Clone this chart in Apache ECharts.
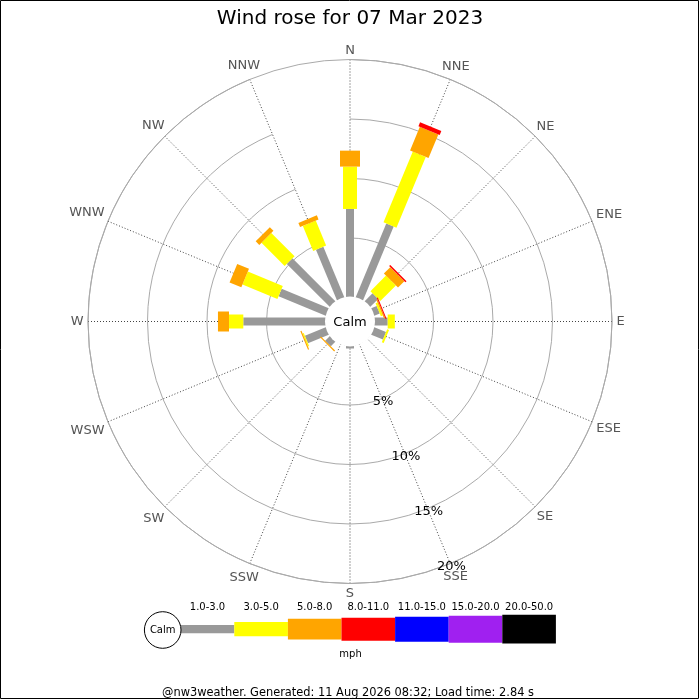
<!DOCTYPE html>
<html><head><meta charset="utf-8">
<script src="https://cdn.jsdelivr.net/npm/echarts@6/dist/echarts.min.js"></script>
<style>html,body{margin:0;padding:0;background:#fff}#c{width:700px;height:700px}</style>
</head><body><div id="c"></div>
<script>
// ---- data ----
const directions = ['N','NNE','NE','ENE','E','ESE','SE','SSE','S','SSW','SW','WSW','W','WNW','NW','NNW'];
const speedBands = ['1.0-3.0','3.0-5.0','5.0-8.0','8.0-11.0','11.0-15.0','15.0-20.0','20.0-50.0'];
const bandColors = ['#999999','#ffff00','#ffa500','#ff0000','#0000ff','#a020f0','#000000'];
// percent of time per direction for each speed band (mph)
const band1 = [7.44, 6.76, 1.00, 0.55, 1.15, 1.12, 0, 0, 0.25, 0, 0.60, 1.95, 6.95, 4.34, 5.16, 4.65];
const band2 = [3.56, 6.44, 1.85, 0.17, 0.60, 0.17, 0, 0, 0, 0, 0, 0.10, 1.20, 3.18, 2.76, 2.27];
const band3 = [1.34, 2.15, 0.75, 0.11, 0, 0, 0, 0, 0, 0, 0.10, 0.10, 0.93, 1.07, 0.43, 0.37];
const band4 = [0, 0.35, 0.13, 0.08, 0, 0, 0, 0, 0, 0, 0, 0, 0, 0, 0, 0];
const band5 = [0,0,0,0,0,0,0,0,0,0,0,0,0,0,0,0];
const band6 = [0,0,0,0,0,0,0,0,0,0,0,0,0,0,0,0];
const band7 = [0,0,0,0,0,0,0,0,0,0,0,0,0,0,0,0];
const radiusMax = 20;
const radiusStep = 5;
const titleText = 'Wind rose for 07 Mar 2023';
const unitText = 'mph';
const footerText = '@nw3weather. Generated: 11 Aug 2026 08:32; Load time: 2.84 s';

// ---- styles ----
const FONT = 'DejaVu Sans';
const barWidths = [8, 14, 20, 23, 25, 27, 29];
const CX = 350, CY = 321.5;

const measureCtx = document.createElement('canvas').getContext('2d');
function textWidth(t, size) {
  measureCtx.font = size + 'px "' + FONT + '"';
  return measureCtx.measureText(t).width;
}

function makeRender(w, color) {
  return function (params, api) {
    const cs = params.coordSys;
    const dir = api.value(1);
    const p0 = api.coord([api.value(0), dir]);
    const p1 = api.coord([api.value(2), dir]);
    let ux = p0[0] - cs.cx, uy = p0[1] - cs.cy;
    const len = Math.hypot(ux, uy) || 1;
    ux /= len; uy /= len;
    const nx = -uy * w / 2, ny = ux * w / 2;
    return {
      type: 'polygon',
      shape: { points: [
        [p0[0] + nx, p0[1] + ny], [p1[0] + nx, p1[1] + ny],
        [p1[0] - nx, p1[1] - ny], [p0[0] - nx, p0[1] - ny]
      ] },
      style: { fill: color }
    };
  };
}

const bands = [band1, band2, band3, band4, band5, band6, band7];
const cum = directions.map(() => 0);
const series = [];
bands.forEach((vals, b) => {
  const data = [];
  vals.forEach((v, i) => {
    if (v > 0) data.push([cum[i], i, cum[i] + v]);
    cum[i] += v;
  });
  series.push({
    type: 'custom', name: speedBands[b], coordinateSystem: 'polar', polarIndex: 0,
    silent: true, z: 3, data: data, renderItem: makeRender(barWidths[b], bandColors[b])
  });
});
// calm circle in the centre
series.push({
  type: 'custom', coordinateSystem: 'polar', polarIndex: 0, silent: true, z: 10,
  data: [[0, 0]],
  renderItem: function (params) {
    const cs = params.coordSys;
    return { type: 'group', children: [
      { type: 'circle', shape: { cx: cs.cx, cy: cs.cy, r: cs.r0 + 1 }, style: { fill: '#ffffff' } },
      { type: 'text', style: { text: 'Calm', x: cs.cx, y: cs.cy + 1, align: 'center', verticalAlign: 'middle',
        fontSize: 13, fontFamily: FONT, fill: '#000' } }
    ] };
  }
});
// compass direction labels just outside the outer ring
const DIR_FONT = 13, DIR_GAP = 4.5, DIR_HALF_H = 5;
series.push({
  type: 'custom', coordinateSystem: 'polar', polarIndex: 0, silent: true, z: 10,
  data: directions.map((d, i) => [radiusMax, i]),
  renderItem: function (params, api) {
    const cs = params.coordSys;
    const i = api.value(1);
    const p = api.coord([api.value(0), i]);
    let ux = p[0] - cs.cx, uy = p[1] - cs.cy;
    const len = Math.hypot(ux, uy) || 1;
    ux /= len; uy /= len;
    const label = directions[i];
    const hw = textWidth(label, DIR_FONT) / 2;
    const ext = hw * Math.abs(ux) + DIR_HALF_H * Math.abs(uy);
    const d = DIR_GAP + ext;
    return { type: 'text', style: { text: label, x: p[0] + ux * d, y: p[1] + uy * d + 0.5,
      align: 'center', verticalAlign: 'middle', fontSize: DIR_FONT, fontFamily: FONT, fill: '#555555' } };
  }
});

// legend graphics
const graphics = [];
graphics.push({ type: 'rect', shape: { x: 0.5, y: 0.5, width: 698, height: 698 },
  style: { fill: 'none', stroke: '#000', lineWidth: 1 }, silent: true, z: 100 });
graphics.push({ type: 'circle', shape: { cx: 162.7, cy: 630, r: 18.3 },
  style: { fill: '#fff', stroke: '#000', lineWidth: 1 }, z: 10 });
graphics.push({ type: 'text', style: { text: 'Calm', x: 162.7, y: 630.5, align: 'center', verticalAlign: 'middle',
  fontSize: 10, fontFamily: FONT, fill: '#000' }, z: 11 });
const boxX0 = 180.7, boxW = 53.6, boxCY = 629.2;
const boxH = [8.3, 14.3, 20.7, 23, 25, 27, 28.7];
speedBands.forEach((lab, b) => {
  const x = boxX0 + b * boxW;
  graphics.push({ type: 'rect', shape: { x: x, y: boxCY - boxH[b] / 2, width: boxW, height: boxH[b] },
    style: { fill: bandColors[b] }, z: 5 });
  graphics.push({ type: 'text', style: { text: lab, x: x + boxW / 2, y: 607.5, align: 'center', verticalAlign: 'middle',
    fontSize: 10, fontFamily: FONT, fill: '#000' }, z: 5 });
});
graphics.push({ type: 'text', style: { text: unitText, x: 350.5, y: 654.5, align: 'center', verticalAlign: 'middle',
  fontSize: 10, fontFamily: FONT, fill: '#000' } });
graphics.push({ type: 'text', style: { text: footerText, x: 348, y: 693, align: 'center', verticalAlign: 'middle',
  fontSize: 11.4, fontFamily: FONT, fill: '#000' } });

const chart = echarts.init(document.getElementById('c'), null, { renderer: 'canvas' });
chart.setOption({
  backgroundColor: '#ffffff',
  animation: false,
  title: { text: titleText, left: 'center', top: 4,
    textStyle: { fontSize: 20, fontWeight: 'normal', fontFamily: FONT, color: '#000' } },
  polar: [
    { center: [CX, CY], radius: [24, 262] },
    { center: [CX, CY], radius: [27, 265] }
  ],
  angleAxis: [
    { polarIndex: 0, type: 'category', data: directions, boundaryGap: false, startAngle: 90, clockwise: true,
      axisLine: { show: true, lineStyle: { color: '#aaaaaa', width: 1 } },
      axisTick: { show: false },
      axisLabel: { show: false },
      splitLine: { show: true, lineStyle: { color: '#444444', width: 1, type: [1, 2] } }
    },
    { polarIndex: 1, type: 'category', data: directions, boundaryGap: false, startAngle: -67.5, show: false }
  ],
  radiusAxis: [
    { polarIndex: 0, type: 'value', min: 0, max: radiusMax, interval: radiusStep,
      axisLine: { show: false }, axisTick: { show: false }, axisLabel: { show: false },
      splitLine: { show: true, lineStyle: { color: '#aaaaaa', width: 1 } }
    },
    { polarIndex: 1, type: 'value', min: 0, max: radiusMax, interval: radiusStep,
      axisLine: { show: false }, axisTick: { show: false }, splitLine: { show: false },
      axisLabel: { show: true, margin: 0, rotate: 0, align: 'center', verticalAlign: 'middle',
        fontSize: 13, fontFamily: FONT, color: '#000',
        formatter: function (v) { return v === 0 ? '' : v + '%'; } }
    }
  ],
  graphic: graphics,
  series: series
});
</script></body></html>
